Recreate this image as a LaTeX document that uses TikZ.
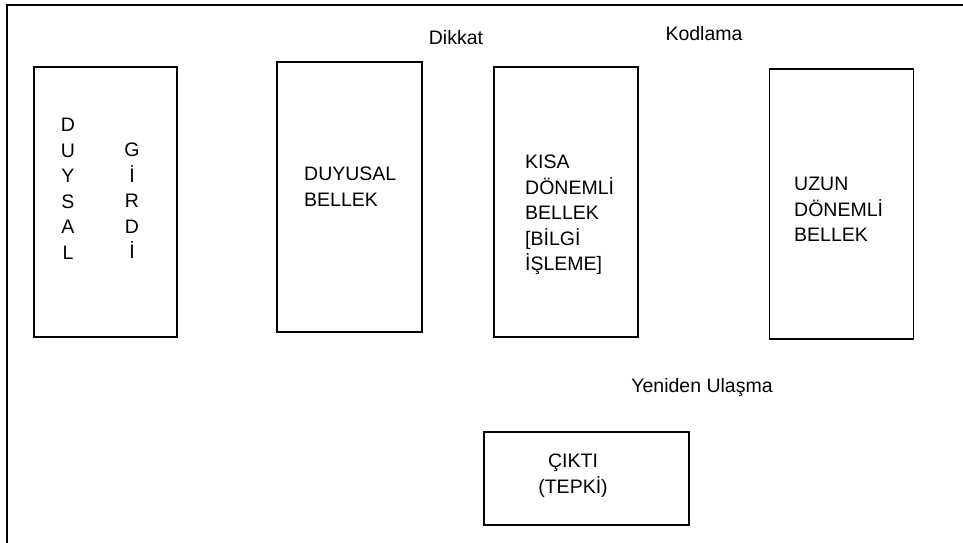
\documentclass[tikz,border=0pt]{standalone}
\usepackage{fontspec}
\setmainfont{Liberation Sans}
\usepackage{xcolor}
\usepackage{tikz}
\usetikzlibrary{positioning}
\definecolor{ink}{HTML}{000000}
\newcommand{\fsBox}{\fontsize{19.5}{25.5}\selectfont}

\begin{document}
\begin{tikzpicture}[x=1pt, y=-1pt,
  memline/.style={draw=ink, line width=1.3pt},
  membox/.style={memline, rectangle, inner sep=0pt, minimum width=144pt, minimum height=270pt},
  memtxt/.style={font=\fsBox, text=ink, inner sep=0pt, align=left, anchor=north west},
  midtxt/.style={font=\fsBox, text=ink, inner sep=0pt, align=center, anchor=north}]
  \useasboundingbox (0,0) rectangle (963,543);
  % frame, top and left edge only
  \coordinate (frameTL) at (7,5);
  \coordinate (frameTR) at (963,5);
  \coordinate (frameBL) at (7,543);
  \draw[memline] (frameTR) -- (frameTL) -- (frameBL);
  % stores
  \node[membox, minimum width=143pt] (girdi) at (105.5,202) {};
  \node[membox, minimum width=145pt] (duyusal) at (349.5,197) {};
  \node[membox] (kisa) at (566,202) {};
  \node[membox] (uzun) at (841.5,204) {};
  \node[membox, minimum width=205pt, minimum height=93pt] (cikti) at (586.5,478.5) {};
  % texts in the stores
  \node[midtxt] (girdiL) at (68,118) {D\\U\\Y\\S\\A\\L};
  \node[midtxt] (girdiR) at (132,143) {G\\İ\\R\\D\\İ};
  \node[memtxt] (duyusalTxt) at (304,167) {DUYUSAL\\BELLEK};
  \node[memtxt] (kisaTxt) at (525,155) {KISA\\DÖNEMLİ\\BELLEK\\{[}BİLGİ\\İŞLEME]};
  \node[memtxt] (uzunTxt) at (794,177) {UZUN\\DÖNEMLİ\\BELLEK};
  \node[midtxt] (ciktiTxt) at (573,454) {ÇIKTI\\(TEPKİ)};
  % process labels
  \node[midtxt] (dikkat) at (456,30) {Dikkat};
  \node[midtxt] (kodlama) at (704,26) {Kodlama};
  \node[midtxt] (ulasma) at (702,378) {Yeniden Ulaşma};
\end{tikzpicture}
\end{document}
